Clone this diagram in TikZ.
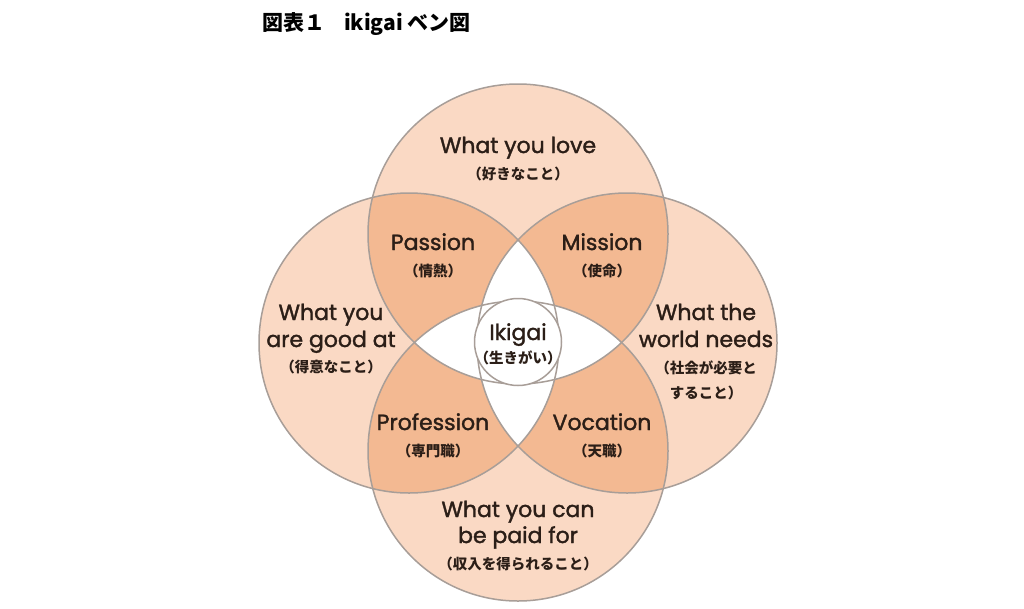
\documentclass[tikz,border=0pt]{standalone}
\usepackage{fontspec}
\setmainfont{Poppins}[FakeBold=1.6]
\newfontfamily\jp{Noto Sans CJK JP}
\definecolor{light}{HTML}{FAD9C4}
\definecolor{dark}{HTML}{F3B992}
\definecolor{edge}{HTML}{A89E98}
\definecolor{ink}{HTML}{2B1E17}
\begin{document}
\begin{tikzpicture}[x=1pt,y=-1pt,
  en/.style={text=ink, font=\fontsize{22}{26}\selectfont, anchor=base, inner sep=0pt},
  ja/.style={text=ink, font=\jp\bfseries\fontsize{14.5}{17}\selectfont, anchor=base, inner sep=0pt},
  ring/.style={draw=edge, line width=1.5pt}]
\useasboundingbox (0,0) rectangle (1024,608);
\fill[white] (0,0) rectangle (1024,608);
\def\R{150pt}
\coordinate (cT) at (518,234);
\coordinate (cB) at (518,451);
\coordinate (cL) at (409,343);
\coordinate (cR) at (627,343);
% single areas
\fill[light] (cT) circle[radius=\R] (cB) circle[radius=\R] (cL) circle[radius=\R] (cR) circle[radius=\R];
% adjacent overlaps
\begin{scope}
  \clip (cT) circle[radius=\R];
  \fill[dark] (cL) circle[radius=\R] (cR) circle[radius=\R];
\end{scope}
\begin{scope}
  \clip (cB) circle[radius=\R];
  \fill[dark] (cL) circle[radius=\R] (cR) circle[radius=\R];
\end{scope}
% opposite overlaps
\begin{scope}
  \clip (cT) circle[radius=\R];
  \fill[white] (cB) circle[radius=\R];
\end{scope}
\begin{scope}
  \clip (cL) circle[radius=\R];
  \fill[white] (cR) circle[radius=\R];
\end{scope}
% outlines
\draw[ring] (cT) circle[radius=\R];
\draw[ring] (cB) circle[radius=\R];
\draw[ring] (cL) circle[radius=\R];
\draw[ring] (cR) circle[radius=\R];
\node[circle, ring, fill=white, minimum size=87pt, inner sep=0pt] (core) at (518,342) {};
% title
\node[text=black, font=\jp\bfseries\fontsize{21}{24}\selectfont, anchor=base west, inner sep=0pt] (title) at (262,30) {図表１\hspace{0.9em}ikigai ベン図};
% labels
\node[en] (love) at (518,153) {What you love};
\node[ja] (loveJ) at (518,179) {（好きなこと）};
\node[en] (passion) at (433,250) {Passion};
\node[ja] (passionJ) at (433,276) {（情熱）};
\node[en] (mission) at (602,250) {Mission};
\node[ja] (missionJ) at (602,276) {（使命）};
\node[en] (good1) at (331,320) {What you};
\node[en] (good2) at (331,347) {are good at};
\node[ja] (goodJ) at (331,372) {（得意なこと）};
\node[en] (ikigai) at (518,340) {Ikigai};
\node[ja] (ikigaiJ) at (518,363) {（生きがい）};
\node[en] (world1) at (706,320) {What the};
\node[en] (world2) at (706,347) {world needs};
\node[ja] (worldJ1) at (706,373) {（社会が必要と};
\node[ja] (worldJ2) at (706,398) {すること）};
\node[en] (prof) at (433,430) {Profession};
\node[ja] (profJ) at (433,456) {（専門職）};
\node[en] (voc) at (602,430) {Vocation};
\node[ja] (vocJ) at (602,456) {（天職）};
\node[en] (paid1) at (518,517) {What you can};
\node[en] (paid2) at (518,543) {be paid for};
\node[ja] (paidJ) at (518,569) {（収入を得られること）};
\end{tikzpicture}
\end{document}
